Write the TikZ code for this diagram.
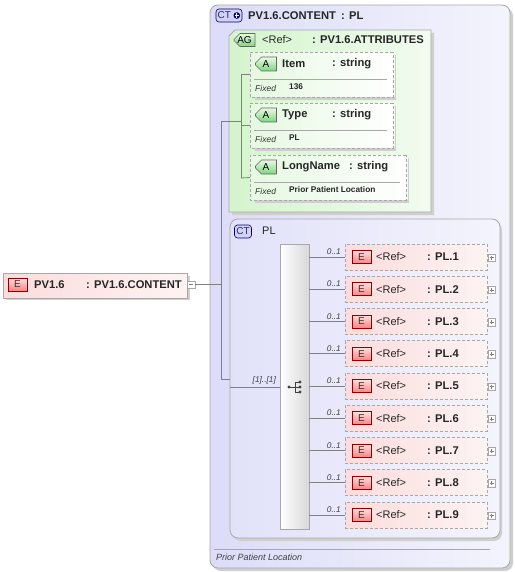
\documentclass[tikz,border=0pt]{standalone}
\usepackage{fontspec}
\setmainfont{Liberation Sans}
\usetikzlibrary{shapes.misc}
\definecolor{lavL}{HTML}{DCDCF8}
\definecolor{lavR}{HTML}{F4F4FD}
\definecolor{grnL}{HTML}{D4F4CC}
\definecolor{grnR}{HTML}{F2FBF0}
\definecolor{pnkL}{HTML}{FCDCDC}
\definecolor{pnkR}{HTML}{FDF3F3}
\definecolor{edge}{HTML}{A8A8A8}
\definecolor{lin}{HTML}{808080}
\definecolor{shd}{HTML}{CFCFCF}
\definecolor{abT}{HTML}{E8FAE4}
\definecolor{abB}{HTML}{7CD67C}
\begin{document}
\begin{tikzpicture}[x=1pt,y=-1pt,
  conn/.style={draw=lin, line width=0.8pt},
  ctbox/.style={draw=edge, line width=0.8pt, rounded corners=8pt, left color=lavL, right color=lavR},
  agbox/.style={draw=edge, line width=0.8pt, left color=grnL, right color=grnR},
  attbox/.style={chamfered rectangle, chamfered rectangle xsep=5pt, chamfered rectangle ysep=5pt,
     chamfered rectangle corners={north west,south west}, draw=edge, line width=0.8pt,
     dash pattern=on 3pt off 2pt, left color=grnL!60!white, right color=white,
     inner sep=0pt, outer sep=0pt, anchor=north west},
  elbox/.style={rectangle, draw=edge, line width=0.8pt, dash pattern=on 3pt off 2pt,
     left color=pnkL, right color=pnkR, inner sep=0pt, outer sep=0pt,
     minimum width=142pt, minimum height=26pt, anchor=north west},
  ebadge/.style={rectangle, draw=black!45!red, line width=0.6pt, top color=red!12, bottom color=red!50,
     minimum width=19pt, minimum height=13pt, inner sep=0pt, font=\fontsize{10}{10}\selectfont, text=black!80},
  abadge/.style={chamfered rectangle, chamfered rectangle xsep=3pt, chamfered rectangle ysep=3pt,
     chamfered rectangle corners={north west,south west}, draw=black!60, line width=0.6pt,
     top color=abT, bottom color=abB,
     minimum width=21pt, minimum height=14pt, inner sep=0pt, font=\fontsize{10}{10}\selectfont},
  ctbadge/.style={rectangle, rounded corners=3pt, draw=black!60!blue, line width=0.6pt,
     fill=blue!18, minimum height=13pt, inner sep=1.5pt, font=\fontsize{10}{10}\selectfont, text=black!80},
  bold/.style={font=\bfseries\fontsize{11.2}{11.2}\selectfont, inner sep=0pt, anchor=west, text=black!85},
  reg/.style={font=\fontsize{11}{11}\selectfont, inner sep=0pt, anchor=west, text=black!85},
  small/.style={font=\itshape\fontsize{8.5}{8.5}\selectfont, inner sep=0pt, anchor=west, text=black!80},
  val/.style={font=\bfseries\fontsize{8.3}{8.3}\selectfont, inner sep=0pt, anchor=west, text=black!85},
  card/.style={font=\itshape\fontsize{8.3}{8.3}\selectfont, inner sep=0pt, anchor=south east, text=black!75},
  plusbox/.style={rectangle, draw=edge, line width=0.5pt, fill=white, minimum size=7.5pt, inner sep=0pt}]
\useasboundingbox (0,0) rectangle (514,572);
% ===== main CT box =====
\fill[shd, rounded corners=8pt] (213,8) rectangle (513,571);
\node[ctbox, minimum width=300pt, minimum height=563pt, inner sep=0pt, outer sep=0pt, anchor=north west] (ct) at (210,5) {};
\node[ctbadge, minimum width=26pt] (ctb) at (229,15.5) {};
\node[inner sep=0pt, font=\fontsize{10}{10}\selectfont, text=black!80, anchor=west] at (217.5,15.5) {CT};
\fill[black!60!blue] (236.8,15.5) circle (3.3);
\draw[white, line width=1pt] (234.6,15.5) -- (239,15.5) (236.8,13.3) -- (236.8,17.7);
\node[bold] (cttitle) at (248,15.5) {PV1.6.CONTENT};
\node[bold] at (341,15.5) {: PL};
% ===== AG box =====
\fill[shd] (233,33) -- (434,33) -- (434,215) -- (232,215) -- cycle;
\draw[agbox] (235,30) -- (431,30) -- (431,212) -- (229,212) -- (229,36) -- cycle;
\node[abadge, minimum width=21pt, minimum height=13pt] (agb) at (244.5,40) {AG};
\node[reg] at (262,40) {<Ref>};
\node[bold] at (312,40) {: PV1.6.ATTRIBUTES};
% attributes
\foreach \nm/\ty/\w/\lab/\cx/\v in {item/52/143/Item/332/136, type/103/143/Type/332/PL, lname/155/156/LongName/349/Prior Patient Location}{
  \fill[shd] (\w+252,\ty+3) rectangle (\w+253,\ty+48);
  \fill[shd] (255,\ty+45) rectangle (\w+253,\ty+48);
  \node[attbox, minimum width=\w pt, minimum height=45pt] (\nm) at (250,\ty) {};
  \draw[edge, line width=0.7pt] (254,\ty+27) -- (\w+244,\ty+27);
  \node[abadge] at (266,\ty+12) {A};
  \node[bold] at (282,\ty+12) {\lab};
  \node[bold] at (\cx,\ty+12) {: string};
  \node[small] at (255,\ty+36) {Fixed};
  \node[val] at (289,\ty+35) {\v};
}
% ===== PV1.6 element =====
\fill[shd] (6,276) rectangle (190,300);
\node[rectangle, draw=edge, line width=0.8pt, left color=pnkL, right color=pnkR, inner sep=0pt, outer sep=0pt,
  minimum width=184pt, minimum height=25pt, anchor=north west] (pv) at (3,273) {};
\node[ebadge] at (17.5,284.5) {E};
\node[bold] at (34,284.5) {PV1.6};
\node[bold] at (86,284.5) {: PV1.6.CONTENT};
\node[plusbox, anchor=west] (pvm) at (187,284.5) {};
\draw[lin, line width=0.6pt] (189,284.5) -- (193,284.5);
% ===== PL CT box =====
\fill[shd, rounded corners=8pt] (233,222) rectangle (502,541);
\node[ctbox, minimum width=270pt, minimum height=319pt, inner sep=0pt, outer sep=0pt, anchor=north west, left color=lavL!85!white] (pl) at (230,219) {};
\node[ctbadge, minimum width=17pt] (plb) at (243,231.5) {CT};
\node[reg] at (262,231) {PL};
% sequence bar
\node[rectangle, draw=edge, line width=0.8pt, left color=white, right color=black!15, inner sep=0pt, outer sep=0pt,
  minimum width=29pt, minimum height=285pt, anchor=north west] (seq) at (280,244) {};
% sequence icon
\fill[black!75] (289,387) circle (1.6);
\draw[black!75, line width=0.8pt] (289,387) -- (295,387) (295,382) -- (295,392) (295,382) -- (300,382) (295,387) -- (300,387) (295,392) -- (300,392);
\fill[black!75] (300,382) circle (1.6) (300,387) circle (1.6) (300,392) circle (1.6);
% ===== connectors (main) =====
\coordinate (j1) at (221,284.5);
\coordinate (j2) at (221,121);
\coordinate (j3) at (241,121);
\draw[conn] (pvm.east) -- (j1);
\draw[conn] (j2) -- (221,379) -- (pl.west |- 0,379);
\draw[conn] (j2) -- (j3);
\draw[conn] (241,74.5) -- (241,178);
\draw[conn] (241,74.5) -- (item.west);
\draw[conn] (241,125.5) -- (type.west);
\draw[conn] (241,178) -- (lname.west);
\draw[conn] (pl.west |- 0,387) -- (seq.west |- 0,387);
\node[card, anchor=south east] at (276,384) {[1]..[1]};
% ===== PL elements =====
\foreach \i in {1,...,9}{
  \pgfmathsetmacro\ty{244+(\i-1)*32.25}
  \node[elbox] (pl\i) at (345,\ty) {};
  \node[ebadge] at (361.5,\ty+13) {E};
  \node[reg] at (376,\ty+13) {<Ref>};
  \node[bold] at (427,\ty+13) {: PL.\i};
  \node[plusbox] (pp\i) at (491.5,\ty+13.5) {};
  \draw[lin, line width=0.5pt] (491.5,\ty+11.5) -- (491.5,\ty+15.5) (489.5,\ty+13.5) -- (493.5,\ty+13.5);
  \draw[conn] (seq.east |- pl\i.west) -- (pl\i.west);
  \node[card] at (341,\ty+11) {0..1};
}
% ===== footer =====
\draw[edge, line width=0.8pt] (214,549) -- (490,549);
\node[small, font=\itshape\fontsize{9}{9}\selectfont, text=black!75] at (216,557) {Prior Patient Location};
\end{tikzpicture}
\end{document}
